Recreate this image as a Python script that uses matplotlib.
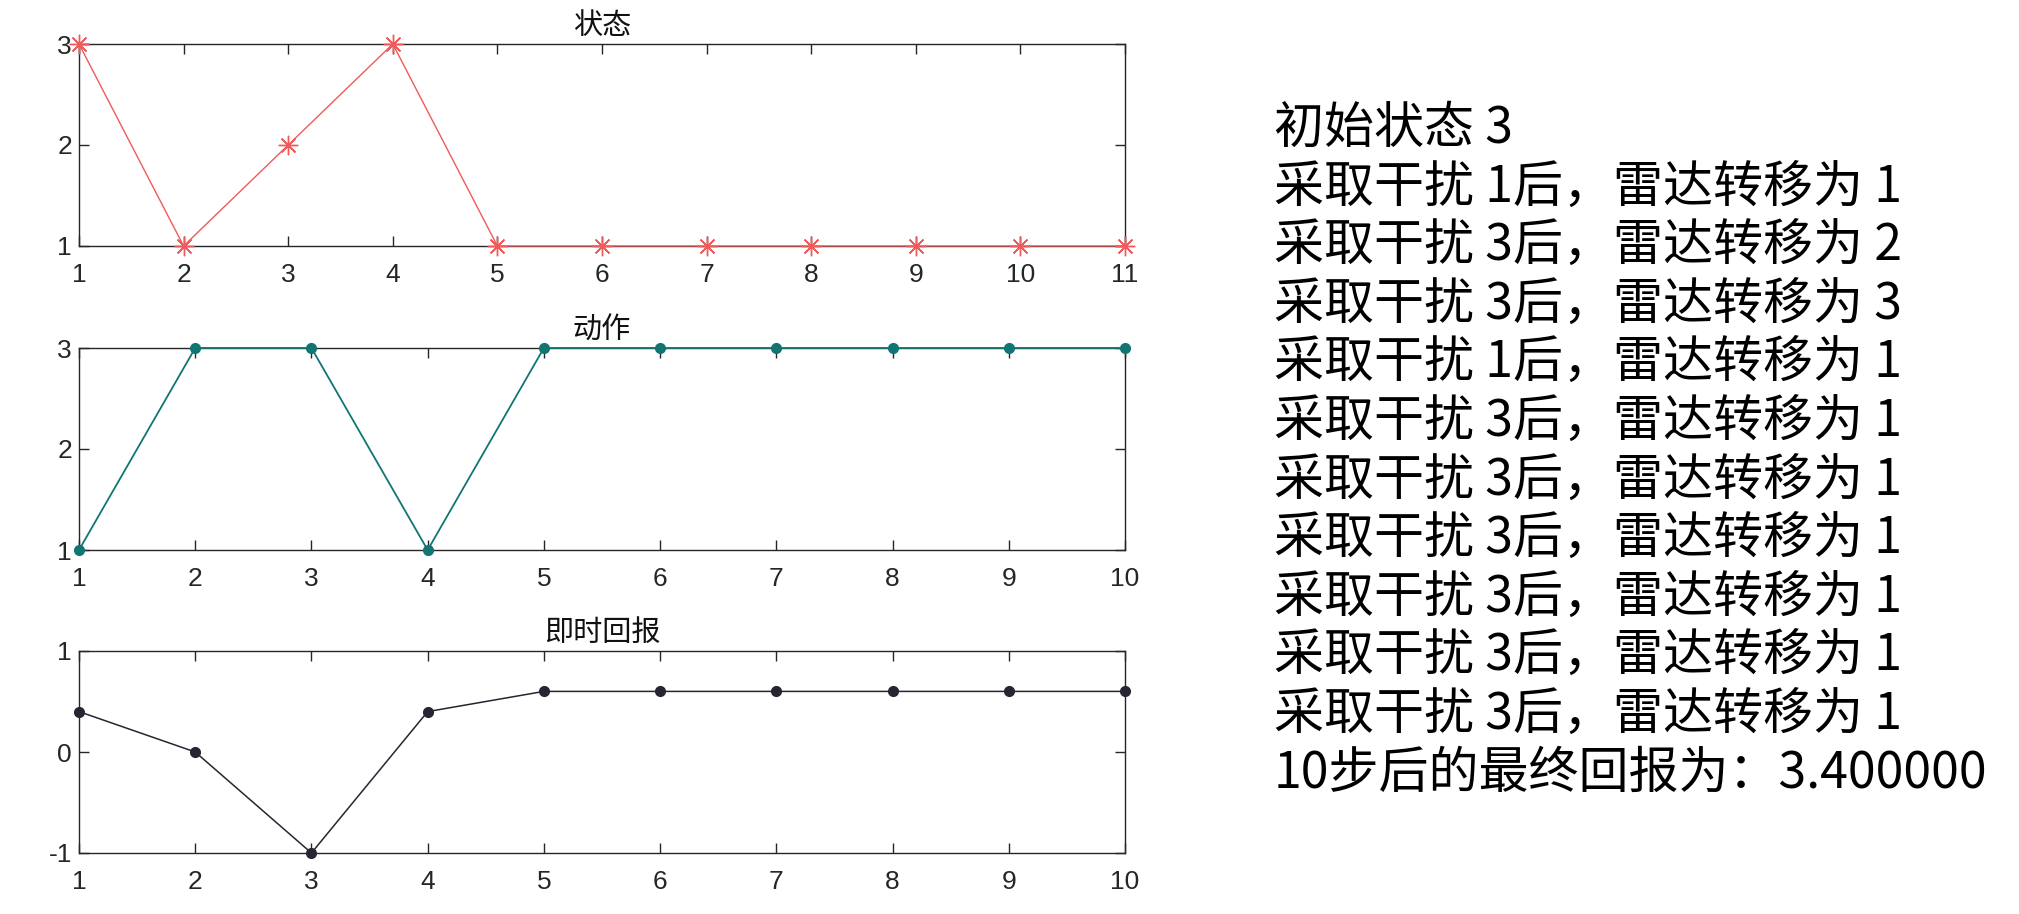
import matplotlib
matplotlib.use("Agg")
import matplotlib.pyplot as plt

plt.rcParams["font.family"] = ["Liberation Sans", "Noto Sans CJK SC", "DejaVu Sans"]
plt.rcParams["axes.unicode_minus"] = False

# data
state_steps = [1, 2, 3, 4, 5, 6, 7, 8, 9, 10, 11]
states = [3, 1, 2, 3, 1, 1, 1, 1, 1, 1, 1]
action_steps = [1, 2, 3, 4, 5, 6, 7, 8, 9, 10]
actions = [1, 3, 3, 1, 3, 3, 3, 3, 3, 3]
rewards = [0.4, 0, -1, 0.4, 0.6, 0.6, 0.6, 0.6, 0.6, 0.6]

titles = ["状态", "动作", "即时回报"]

RED = "#ef5b5b"
TEAL = "#107673"
DARK = "#262633"
SPINE = "#262626"

W, H = 2019, 914
fig = plt.figure(figsize=(W / 100, H / 100), dpi=100)

left = 79 / W
width = (1125 - 79) / W
tops = [44, 348, 651]
ax_h = 202


def style_axis(ax, title):
    for sp in ax.spines.values():
        sp.set_color(SPINE)
        sp.set_linewidth(1.0)
    ax.tick_params(axis="both", direction="in", length=7, width=1.0,
                   color=SPINE, labelsize=19, labelcolor="#262626",
                   top=True, right=True)
    ax.tick_params(axis="x", pad=12)
    ax.tick_params(axis="y", pad=5)
    ax.set_title(title, fontsize=21, pad=7, color="#111111",
                 family=["Noto Sans CJK SC"])


axes = []
for top in tops:
    bottom = 1 - (top + ax_h) / H
    axes.append(fig.add_axes([left, bottom, width, ax_h / H]))

# panel 1: state
ax = axes[0]
ax.plot(state_steps, states, color=RED, linewidth=1.0, marker=(8, 2, 0),
        markersize=14, markeredgewidth=1.0, clip_on=False, zorder=3)
ax.set_xlim(1, 11)
ax.set_ylim(1, 3)
ax.set_xticks(state_steps)
ax.set_yticks([1, 2, 3])
style_axis(ax, titles[0])

# panel 2: action
ax = axes[1]
ax.plot(action_steps, actions, color=TEAL, linewidth=1.3, marker="o",
        markersize=7, clip_on=False, zorder=3)
ax.set_xlim(1, 10)
ax.set_ylim(1, 3)
ax.set_xticks(action_steps)
ax.set_yticks([1, 2, 3])
style_axis(ax, titles[1])

# panel 3: immediate reward
ax = axes[2]
ax.plot(action_steps, rewards, color=DARK, linewidth=1.1, marker="o",
        markersize=7, clip_on=False, zorder=3)
ax.set_xlim(1, 10)
ax.set_ylim(-1, 1)
ax.set_xticks(action_steps)
ax.set_yticks([-1, 0, 1])
style_axis(ax, titles[2])

# console-style log on the right
lines = [f"初始状态 {states[0]}"]
for a, s in zip(actions, states[1:]):
    lines.append(f"采取干扰 {a}后，雷达转移为 {s}")
lines.append(f"{len(actions)}步后的最终回报为：{sum(rewards):f}")

text_x = 1274 / W
y0 = 129
dy = 58.6
for i, line in enumerate(lines):
    fig.text(text_x, 1 - (y0 + i * dy) / H, line, fontsize=36,
             family=["Noto Sans CJK SC"], va="center", ha="left", color="black")

fig.savefig("out.png", dpi=100)
